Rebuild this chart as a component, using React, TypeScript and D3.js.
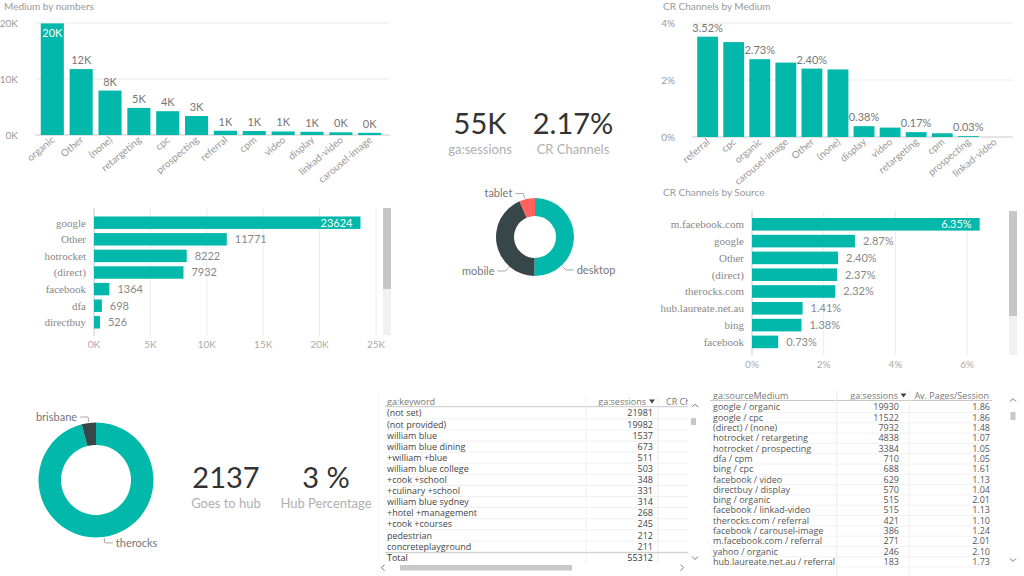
import React from 'react';
import * as d3 from 'd3';

// ---- data ----
const mediumCats = ['organic', 'Other', '(none)', 'retargeting', 'cpc', 'prospecting', 'referral', 'cpm', 'video', 'display', 'linkad-video', 'carousel-image'];
const mediumSessions = [19930, 11771, 7932, 4838, 4250, 3384, 760, 710, 629, 570, 480, 386];
const mediumTicks = [0, 10000, 20000];

const crMediumCats = ['referral', 'cpc', 'organic', 'carousel-image', 'Other', '(none)', 'display', 'video', 'retargeting', 'cpm', 'prospecting', 'linkad-video'];
const crMediumVals = [3.52, 3.33, 2.73, 2.61, 2.40, 2.37, 0.38, 0.33, 0.17, 0.13, 0.03, 0.0];
const crMediumTicks = [0, 2, 4];

const sourceCats = ['google', 'Other', 'hotrocket', '(direct)', 'facebook', 'dfa', 'directbuy'];
const sourceSessions = [23624, 11771, 8222, 7932, 1364, 698, 526];
const sourceTicks = [0, 5000, 10000, 15000, 20000, 25000];

const crSourceCats = ['m.facebook.com', 'google', 'Other', '(direct)', 'therocks.com', 'hub.laureate.net.au', 'bing', 'facebook'];
const crSourceVals = [6.35, 2.87, 2.40, 2.37, 2.32, 1.41, 1.38, 0.73];
const crSourceTicks = [0, 2, 4, 6];

const deviceCats = ['desktop', 'mobile', 'tablet'];
const deviceShare = [50.3, 43.2, 6.5];

const hubCats = ['therocks', 'brisbane'];
const hubVals = [2052, 85];

const kwNames = ['(not set)', '(not provided)', 'william blue', 'william blue dining', '+william +blue', 'william blue college', '+cook +school', '+culinary +school', 'william blue sydney', '+hotel +management', '+cook +courses', 'pedestrian', 'concreteplayground'];
const kwSessions = [21981, 19982, 1537, 673, 511, 503, 348, 331, 314, 268, 245, 212, 211];
const kwTotal = 55312;

const smNames = ['google / organic', 'google / cpc', '(direct) / (none)', 'hotrocket / retargeting', 'hotrocket / prospecting', 'dfa / cpm', 'bing / cpc', 'facebook / video', 'directbuy / display', 'bing / organic', 'facebook / linkad-video', 'therocks.com / referral', 'facebook / carousel-image', 'm.facebook.com / referral', 'yahoo / organic', 'hub.laureate.net.au / referral'];
const smSessions = [19930, 11522, 7932, 4838, 3384, 710, 688, 629, 570, 515, 515, 421, 386, 271, 246, 183];
const smPages = [1.86, 1.86, 1.48, 1.07, 1.05, 1.05, 1.61, 1.13, 1.04, 2.01, 1.13, 1.10, 1.24, 2.01, 2.10, 1.73];

const TEAL = '#01B8AA';
const DARK = '#374649';
const RED = '#FD625E';
const FONT = 'Lato, "Segoe UI", sans-serif';
const SERIF = '"Liberation Serif", "Times New Roman", serif';
const TFONT = '"Open Sans", "Segoe UI", sans-serif';

function MediumChart() {
  const x = d3.scaleBand().domain(mediumCats).range([35, 387]).padding(0.2);
  const y = d3.scaleLinear().domain([0, 20000]).range([135, 23]);
  return (
    <g fontFamily={FONT}>
      <text x={4} y={10} fontSize={10} fill="#999">Medium by numbers</text>
      {mediumTicks.map(t => (
        <g key={t}>
          <line x1={35} x2={390} y1={y(t)} y2={y(t)} stroke={t === 0 ? '#c8c8c8' : '#ececec'} />
          <text x={18} y={y(t)} dy="0.35em" textAnchor="end" fontSize={10} fill="#999">{t / 1000}K</text>
        </g>
      ))}
      {mediumCats.map((c, i) => {
        const v = mediumSessions[i];
        const cx = x(c)! + x.bandwidth() / 2;
        const inside = y(v) < 35;
        return (
          <g key={c}>
            <rect x={x(c)} y={y(v)} width={x.bandwidth()} height={y(0) - y(v)} fill={TEAL} />
            <text x={cx} y={inside ? y(v) + 14 : y(v) - 5} textAnchor="middle" fontSize={11} fill={inside ? '#fff' : '#777'}>{Math.round(v / 1000)}K</text>
            <text transform={`translate(${cx + 3},${141}) rotate(-40)`} textAnchor="end" fontSize={10} fill="#999">{c}</text>
          </g>
        );
      })}
    </g>
  );
}

function CrMediumChart() {
  const x = d3.scaleBand().domain(crMediumCats).range([692, 1010]).padding(0.2);
  const y = d3.scaleLinear().domain([0, 4]).range([137, 23]);
  return (
    <g fontFamily={FONT}>
      <text x={663} y={10} fontSize={10} fill="#999">CR Channels by Medium</text>
      {crMediumTicks.map(t => (
        <g key={t}>
          <line x1={692} x2={1013} y1={y(t)} y2={y(t)} stroke={t === 0 ? '#c8c8c8' : '#ececec'} />
          <text x={675} y={y(t)} dy="0.35em" textAnchor="end" fontSize={10} fill="#999">{t}%</text>
        </g>
      ))}
      {crMediumCats.map((c, i) => {
        const v = crMediumVals[i];
        const cx = x(c)! + x.bandwidth() / 2;
        return (
          <g key={c}>
            <rect x={x(c)} y={y(v)} width={x.bandwidth()} height={y(0) - y(v)} fill={TEAL} />
            {i % 2 === 0 && v > 0 && (
              <text x={cx} y={y(v) - 5} textAnchor="middle" fontSize={11} fill="#777">{v.toFixed(2)}%</text>
            )}
            <text transform={`translate(${cx + 3},${143}) rotate(-40)`} textAnchor="end" fontSize={10} fill="#999">{c}</text>
          </g>
        );
      })}
    </g>
  );
}

function HBar(props: {
  cats: string[]; vals: number[]; ticks: number[]; domain: number;
  x0: number; x1: number; y0: number; y1: number; gridTop: number; gridBottom: number;
  axisY: number; labelX: number; fmt: (v: number) => string; tickFmt: (v: number) => string;
  sbX: number; sbThumbEnd: number; sbEnd: number;
}) {
  const p = props;
  const x = d3.scaleLinear().domain([0, p.domain]).range([p.x0, p.x1]);
  const y = d3.scaleBand().domain(p.cats).range([p.y0, p.y1]).paddingInner(0.25).paddingOuter(0.125);
  const maxV = d3.max(p.vals)!;
  return (
    <g fontFamily={FONT}>
      {p.ticks.map(t => (
        <g key={t}>
          <line x1={x(t)} x2={x(t)} y1={p.gridTop} y2={p.gridBottom} stroke={t === 0 ? '#c8c8c8' : '#ececec'} />
          <text x={x(t)} y={p.axisY} dy="0.35em" textAnchor="middle" fontSize={10} fill="#aaa">{p.tickFmt(t)}</text>
        </g>
      ))}
      {p.cats.map((c, i) => {
        const v = p.vals[i];
        const cy = y(c)! + y.bandwidth() / 2;
        const inside = v === maxV;
        return (
          <g key={c}>
            <rect x={x(0)} y={y(c)} width={x(v) - x(0)} height={y.bandwidth()} fill={TEAL} />
            <text x={p.labelX} y={cy} dy="0.35em" textAnchor="end" fontSize={11} fontFamily={SERIF} fill="#888">{c}</text>
            <text x={inside ? x(v) - 8 : x(v) + 8} y={cy} dy="0.35em" textAnchor={inside ? 'end' : 'start'}
              fontSize={11} fill={inside ? '#fff' : '#888'}>{p.fmt(v)}</text>
          </g>
        );
      })}
      <rect x={p.sbX} y={p.gridTop} width={8} height={p.sbEnd - p.gridTop} fill="#f1f1f1" />
      <rect x={p.sbX} y={p.gridTop} width={8} height={p.sbThumbEnd - p.gridTop} fill="#c6c6c6" />
    </g>
  );
}

function Donut(props: {
  cats: string[]; vals: number[]; colors: string[]; cx: number; cy: number; r: number; r0: number;
  labelAngle: (cat: string, mid: number) => number;
}) {
  const p = props;
  const pie = d3.pie<number>().sort(null).value(d => d);
  const arcs = pie(p.vals);
  const arc = d3.arc<d3.PieArcDatum<number>>().innerRadius(p.r0).outerRadius(p.r);
  const polar = (r: number, deg: number) => {
    const a = (deg * Math.PI) / 180;
    return [p.cx + r * Math.sin(a), p.cy - r * Math.cos(a)];
  };
  return (
    <g fontFamily={FONT}>
      <g transform={`translate(${p.cx},${p.cy})`}>
        {arcs.map((a, i) => <path key={i} d={arc(a)!} fill={p.colors[i]} />)}
      </g>
      {arcs.map((a, i) => {
        const mid = (((a.startAngle + a.endAngle) / 2) * 180) / Math.PI;
        const deg = p.labelAngle(p.cats[i], mid);
        const right = deg < 180;
        const p1 = polar(p.r + 1, deg);
        const p2 = polar(p.r + 6, deg);
        const p3 = [p2[0] + (right ? 8 : -8), p2[1]];
        return (
          <g key={'l' + i}>
            <polyline points={[p1, p2, p3].map(q => q.join(',')).join(' ')} fill="none" stroke="#aaa" strokeWidth={1} />
            <text x={p3[0] + (right ? 3 : -3)} y={p3[1]} dy="0.35em" textAnchor={right ? 'start' : 'end'} fontSize={11} fill="#777">{p.cats[i]}</text>
          </g>
        );
      })}
    </g>
  );
}

function Kpi(props: { x: number; y: number; value: string; label: string }) {
  return (
    <g fontFamily={FONT} textAnchor="middle">
      <text x={props.x} y={props.y} fontSize={29} fill="#333">{props.value}</text>
      <text x={props.x} y={props.y + 20} fontSize={13} fill="#b0b0b0">{props.label}</text>
    </g>
  );
}

function Chevron(props: { x: number; y: number; dir: 'up' | 'down' | 'left' | 'right' }) {
  const { x, y, dir } = props;
  const pts = dir === 'up' ? [[x - 3, y + 1.5], [x, y - 1.5], [x + 3, y + 1.5]]
    : dir === 'down' ? [[x - 3, y - 1.5], [x, y + 1.5], [x + 3, y - 1.5]]
    : dir === 'left' ? [[x + 1.5, y - 3], [x - 1.5, y], [x + 1.5, y + 3]]
    : [[x - 1.5, y - 3], [x + 1.5, y], [x - 1.5, y + 3]];
  return <polyline points={pts.map(q => q.join(',')).join(' ')} fill="none" stroke="#777" strokeWidth={1} />;
}

function KeywordTable() {
  const top = 413.3;
  const step = 11.1;
  const rowY = (i: number) => top + i * step;
  return (
    <g fontFamily={TFONT} fontSize={9}>
      <defs>
        <clipPath id="kwclip"><rect x={383} y={390} width={305} height={180} /></clipPath>
      </defs>
      <g clipPath="url(#kwclip)">
        <text x={387} y={401.7} dy="0.35em" fill="#777">ga:keyword</text>
        <text x={646} y={401.7} dy="0.35em" textAnchor="end" fill="#777">ga:sessions</text>
        <path d="M649,399.5 L655,399.5 L652,403.5 Z" fill="#444" />
        <text x={666} y={401.7} dy="0.35em" fill="#777">CR Channels</text>
        <line x1={385} x2={690} y1={406.7} y2={406.7} stroke="#c8c8c8" />
        <line x1={586} x2={586} y1={396} y2={563} stroke="#f0f0f0" />
        <line x1={658} x2={658} y1={396} y2={563} stroke="#ececec" />
        {kwNames.map((n, i) => (
          <g key={n}>
            <line x1={385} x2={690} y1={rowY(i) + 5.5} y2={rowY(i) + 5.5} stroke="#f0f0f0" />
            <text x={387} y={rowY(i)} dy="0.35em" fill="#444">{n}</text>
            <text x={653} y={rowY(i)} dy="0.35em" textAnchor="end" fill="#444">{kwSessions[i]}</text>
          </g>
        ))}
        <line x1={385} x2={690} y1={552.7} y2={552.7} stroke="#c8c8c8" />
        <text x={387} y={558} dy="0.35em" fill="#333">Total</text>
        <text x={653} y={558} dy="0.35em" textAnchor="end" fill="#333">{kwTotal}</text>
      </g>
      <Chevron x={383} y={567.7} dir="left" />
      <rect x={400} y={565} width={172} height={5.5} fill="#c8c8c8" />
      <Chevron x={682} y={567.7} dir="right" />
      <Chevron x={695} y={405.7} dir="up" />
      <rect x={691} y={418} width={5} height={7} fill="#c8c8c8" />
      <Chevron x={695} y={558} dir="down" />
    </g>
  );
}

function SourceMediumTable() {
  const top = 407.3;
  const step = 10.3;
  const rowY = (i: number) => top + i * step;
  return (
    <g fontFamily={TFONT} fontSize={9}>
      <text x={713} y={395.7} dy="0.35em" fill="#777">ga:sourceMedium</text>
      <text x={898} y={395.7} dy="0.35em" textAnchor="end" fill="#777">ga:sessions</text>
      <path d="M900.5,393.5 L906.5,393.5 L903.5,397.5 Z" fill="#444" />
      <text x={989} y={395.7} dy="0.35em" textAnchor="end" fill="#777">Av. Pages/Session</text>
      <line x1={710} x2={992} y1={400.5} y2={400.5} stroke="#c8c8c8" />
      <line x1={836.7} x2={836.7} y1={390} y2={576} stroke="#ececec" />
      <line x1={909.3} x2={909.3} y1={390} y2={576} stroke="#f0f0f0" />
      {smNames.map((n, i) => (
        <g key={n}>
          <line x1={710} x2={992} y1={rowY(i) + 5.2} y2={rowY(i) + 5.2} stroke="#f2f2f2" />
          <text x={713} y={rowY(i)} dy="0.35em" fill="#555">{n}</text>
          <text x={899} y={rowY(i)} dy="0.35em" textAnchor="end" fill="#555">{smSessions[i]}</text>
          <text x={990} y={rowY(i)} dy="0.35em" textAnchor="end" fill="#555">{smPages[i].toFixed(2)}</text>
        </g>
      ))}
      <Chevron x={1013} y={400} dir="up" />
      <rect x={1010.5} y={412} width={5} height={8} fill="#c8c8c8" />
      <Chevron x={1013} y={560} dir="down" />
    </g>
  );
}

export default function App() {
  return (
    <svg width={1024} height={576} style={{ position: 'absolute', left: 0, top: 0, background: '#fff' }}>
      <MediumChart />
      <CrMediumChart />
      <Kpi x={480} y={134} value="55K" label="ga:sessions" />
      <Kpi x={573} y={134} value="2.17%" label="CR Channels" />
      <Donut cats={deviceCats} vals={deviceShare} colors={[TEAL, DARK, RED]} cx={535} cy={237} r={39} r0={21}
        labelAngle={(c, mid) => (c === 'desktop' ? 137 : c === 'mobile' ? 221 : 345)} />
      <HBar cats={sourceCats} vals={sourceSessions} ticks={sourceTicks} domain={25000}
        x0={94} x1={376} y0={214.4} y1={330.6} gridTop={208} gridBottom={336} axisY={344}
        labelX={86} fmt={v => String(v)} tickFmt={t => `${t / 1000}K`} sbX={383} sbThumbEnd={289} sbEnd={335} />
      <text x={663} y={196} fontSize={10} fill="#999" fontFamily={FONT}>CR Channels by Source</text>
      <HBar cats={crSourceCats} vals={crSourceVals} ticks={crSourceTicks} domain={7}
        x0={752} x1={1003} y0={215.9} y1={350.3} gridTop={211} gridBottom={355} axisY={364}
        labelX={744} fmt={v => `${v.toFixed(2)}%`} tickFmt={t => `${t}%`} sbX={1009} sbThumbEnd={316} sbEnd={355} />
      <Donut cats={hubCats} vals={hubVals} colors={[TEAL, DARK]} cx={96} cy={480} r={57.5} r0={35}
        labelAngle={(c, mid) => (c === 'therocks' ? 172 : mid)} />
      <Kpi x={226} y={488} value="2137" label="Goes to hub" />
      <Kpi x={326} y={488} value="3 %" label="Hub Percentage" />
      <line x1={378} x2={378} y1={392} y2={560} stroke="#f2f2f2" />
      <KeywordTable />
      <SourceMediumTable />
    </svg>
  );
}
